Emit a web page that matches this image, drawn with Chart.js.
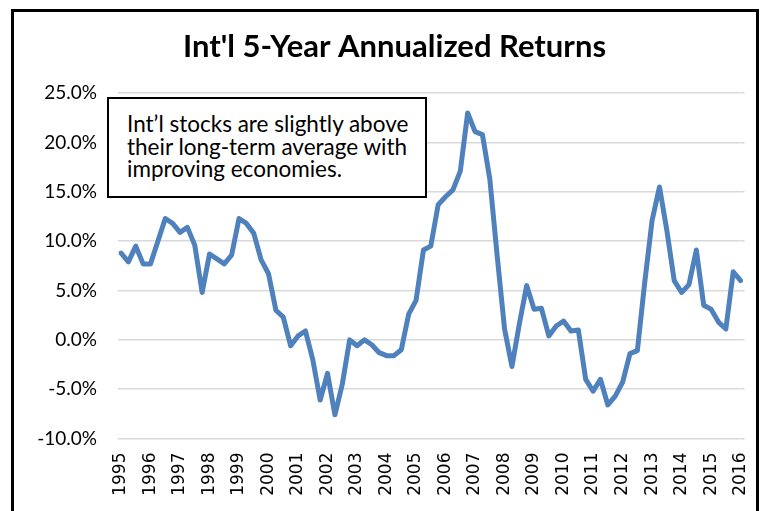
<!DOCTYPE html>
<html>
<head>
<meta charset="utf-8">
<script src="https://cdn.jsdelivr.net/npm/chart.js@4"></script>
<style>
  body { margin: 0; background: #fff; }
  #wrap { position: relative; width: 767px; height: 511px; overflow: hidden; }
  #frame {
    position: absolute; left: 11px; top: 9px; width: 742px; height: 520px;
    border: 3px solid #000; pointer-events: none;
  }
  #note {
    position: absolute; left: 107px; top: 97px; width: 320px; height: 101px;
    border: 2px solid #000; background: #fff; box-sizing: border-box;
    font-family: Lato, "Open Sans", sans-serif; font-size: 22.5px; line-height: 22.5px;
    padding: 14px 0 0 18px; color: #000; white-space: nowrap;
  }
</style>
</head>
<body>
<div id="wrap">
  <canvas id="myChart" width="767" height="511"></canvas>
  <div id="note">Int’l stocks are slightly above<br>their long-term average with<br>improving economies.</div>
  <div id="frame"></div>
</div>
<script>
// quarterly data, 1995 Q1 .. 2016 Q1
const years = ["1995", "1996", "1997", "1998", "1999", "2000", "2001", "2002", "2003", "2004", "2005",
  "2006", "2007", "2008", "2009", "2010", "2011", "2012", "2013", "2014", "2015", "2016"];

const returns = [
  8.8, 7.9, 9.5, 7.7,      // 1995
  7.7, 10.0, 12.3, 11.8,   // 1996
  10.9, 11.4, 9.6, 4.8,    // 1997
  8.7, 8.2, 7.7, 8.6,      // 1998
  12.3, 11.8, 10.8, 8.1,   // 1999
  6.7, 3.0, 2.3, -0.6,     // 2000
  0.4, 0.9, -2.0, -6.1,    // 2001
  -3.4, -7.6, -4.5, 0.0,   // 2002
  -0.6, 0.0, -0.5, -1.3,   // 2003
  -1.6, -1.6, -1.0, 2.6,   // 2004
  4.0, 9.1, 9.5, 13.7,     // 2005
  14.5, 15.2, 17.1, 23.0,  // 2006
  21.1, 20.8, 16.3, 8.5,   // 2007
  1.1, -2.7, 1.6, 5.5,     // 2008
  3.1, 3.2, 0.4, 1.4,      // 2009
  1.9, 0.9, 1.0, -4.0,     // 2010
  -5.2, -4.0, -6.6, -5.7,  // 2011
  -4.3, -1.4, -1.1, 5.8,   // 2012
  12.1, 15.5, 11.1, 6.0,   // 2013
  4.8, 5.6, 9.1, 3.5,      // 2014
  3.1, 1.8, 1.1, 6.9,      // 2015
  6.0                      // 2016
];

const yTicks = [-10, -5, 0, 5, 10, 15, 20, 25];

const categories = [];
years.forEach((y) => {
  ["Q1", "Q2", "Q3", "Q4"].forEach((q) => {
    if (categories.length < returns.length) categories.push(y + " " + q);
  });
});

const gridColor = "#D9D9D9";
const setTicks = (s) => { s.ticks = yTicks.map((v) => ({ value: v })); };

const ctx = document.getElementById("myChart").getContext("2d");
const chart = new Chart(ctx, {
  type: "line",
  data: {
    labels: categories,
    datasets: [
      {
        label: "Int'l 5-Year Annualized Returns",
        data: returns,
        borderColor: "#4F81BD",
        borderWidth: 5,
        pointRadius: 0,
        fill: false,
        tension: 0,
        borderJoinStyle: "round",
        borderCapStyle: "round",
      },
    ],
  },
  options: {
    responsive: false,
    animation: false,
    layout: { padding: { top: 20, left: 35, right: 13, bottom: 0 } },
    plugins: {
      legend: { display: false },
      tooltip: { enabled: false },
      title: {
        display: true,
        text: "Int'l 5-Year Annualized Returns",
        color: "#000",
        font: { family: "Lato", size: 31, weight: "bold", lineHeight: 1.2 },
        padding: { top: 8, bottom: 28 },
      },
    },
    scales: {
      x: {
        grid: { display: false },
        border: { display: false },
        afterFit: (s) => { s.height = 72.5; },
        ticks: {
          autoSkip: false,
          minRotation: 90,
          maxRotation: 90,
          padding: 6,
          color: "#000",
          font: { family: "DejaVu Sans", size: 17 },
          callback: function (v) {
            const lab = this.getLabelForValue(v);
            return lab.endsWith("Q1") ? lab.slice(0, 4) : "";
          },
        },
      },
      y: {
        min: yTicks[0],
        max: yTicks[yTicks.length - 1],
        afterFit: (s) => { s.width = 86; },
        afterBuildTicks: setTicks,
        border: { display: false },
        grid: { color: gridColor, lineWidth: 1.5, tickLength: 3 },
        ticks: {
          padding: 21,
          color: "#000",
          font: { family: "Lato", size: 19 },
          callback: (v) => v.toFixed(1) + "%",
        },
      },
      y1: {
        position: "right",
        min: yTicks[0],
        max: yTicks[yTicks.length - 1],
        afterBuildTicks: setTicks,
        afterFit: (s) => { s.width = 4; },
        border: { display: false },
        grid: { color: gridColor, lineWidth: 1.5, tickLength: 4, drawOnChartArea: false },
        ticks: { display: false },
      },
    },
  },
});
</script>
</body>
</html>
